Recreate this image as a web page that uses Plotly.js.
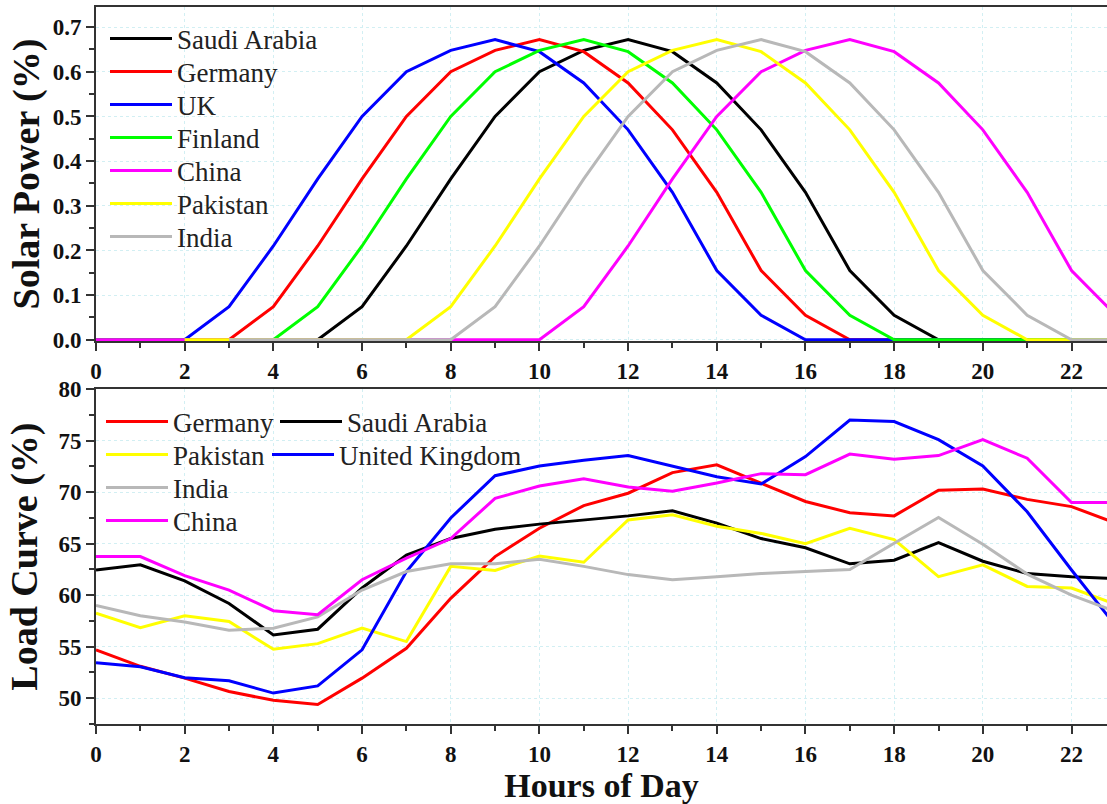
<!DOCTYPE html>
<html>
<head>
<meta charset="utf-8">
<script src="https://cdn.plot.ly/plotly-3.0.1.min.js"></script>
<style>html,body{margin:0;padding:0;background:#fff;}#chart{width:1107px;height:804px;}</style>
</head>
<body>
<div id="chart"></div>
<script>
// ---------- data ----------
const hours = [0,1,2,3,4,5,6,7,8,9,10,11,12,13,14,15,16,17,18,19,20,21,22,23];
const hoursPakistan = [2,3,4,5,6,7,8,9,10,11,12,13,14,15,16,17,18,19,20,21,22,23];
const hoursIndia = [3,4,5,6,7,8,9,10,11,12,13,14,15,16,17,18,19,20,21,22,23];

const saudiSolar    = [0,0,0,0,0,0,0.074,0.21,0.36,0.5,0.6,0.648,0.672,0.645,0.575,0.47,0.33,0.155,0.055,0,0,0,0,0];
const germanySolar  = [0,0,0,0,0.074,0.21,0.36,0.5,0.6,0.648,0.672,0.645,0.575,0.47,0.33,0.155,0.055,0,0,0,0,0,0,0];
const ukSolar       = [0,0,0,0.074,0.21,0.36,0.5,0.6,0.648,0.672,0.645,0.575,0.47,0.33,0.155,0.055,0,0,0,0,0,0,0,0];
const finlandSolar  = [0,0,0,0,0,0.074,0.21,0.36,0.5,0.6,0.648,0.672,0.645,0.575,0.47,0.33,0.155,0.055,0,0,0,0,0,0];
const chinaSolar    = [0,0,0,0,0,0,0,0,0,0,0,0.074,0.21,0.36,0.5,0.6,0.648,0.672,0.645,0.575,0.47,0.33,0.155,0.055];
const pakistanSolar = [0,0,0,0,0,0,0.074,0.21,0.36,0.5,0.6,0.648,0.672,0.645,0.575,0.47,0.33,0.155,0.055,0,0,0];
const indiaSolar    = [0,0,0,0,0,0,0.074,0.21,0.36,0.5,0.6,0.648,0.672,0.645,0.575,0.47,0.33,0.155,0.055,0,0];

const germanyLoad  = [54.7,53.1,51.95,50.65,49.8,49.4,51.95,54.85,59.7,63.75,66.5,68.7,69.9,71.9,72.65,70.9,69.1,68.0,67.7,70.2,70.3,69.3,68.6,67.0];
const saudiLoad    = [62.45,62.95,61.4,59.2,56.15,56.7,60.7,63.9,65.5,66.4,66.9,67.3,67.7,68.2,67.0,65.5,64.6,63.05,63.4,65.1,63.3,62.1,61.8,61.6];
const pakistanLoad = [58.25,56.85,58.0,57.45,54.75,55.3,56.8,55.5,62.8,62.4,63.8,63.2,67.3,67.8,66.7,66.0,65.0,66.5,65.4,61.8,62.95,60.85,60.7,59.1];
const ukLoad       = [53.45,53.05,52.0,51.7,50.5,51.2,54.7,62.3,67.5,71.6,72.55,73.1,73.55,72.5,71.5,70.8,73.45,77.0,76.85,75.1,72.55,68.1,62.45,57.0];
const indiaLoad    = [59.0,58.0,57.4,56.6,56.8,57.9,60.5,62.3,63.05,63.05,63.5,62.8,62.0,61.5,61.8,62.1,62.3,62.5,65.05,67.55,64.95,62.05,60.0,58.4];
const chinaLoad    = [63.75,63.75,61.9,60.5,58.5,58.1,61.5,63.6,65.5,69.4,70.6,71.3,70.5,70.1,70.9,71.8,71.7,73.7,73.2,73.55,75.1,73.3,69.0,69.0];

// ---------- styling ----------
const C = {saudi:'#000000', germany:'#ff0000', uk:'#0000ff', finland:'#00ff00', china:'#ff00ff', pakistan:'#ffff00', india:'#b8b8b8'};
const FONT = 'Liberation Serif, Times New Roman, serif';
const LW = 3;

// plot area in pixels: left 96, right 1107, top 7, bottom 724
const pxX = px => (px - 96) / 1011;
const pxY = py => (724 - py) / 717;

let legendCount = 0;
const legends = {};
const legFont = {family:FONT, size:27, color:'#222'};
function newLegend(px, py) {
  legendCount += 1;
  const key = legendCount === 1 ? 'legend' : 'legend' + legendCount;
  legends[key] = {x:pxX(px), y:pxY(py), xanchor:'left', yanchor:'middle',
    bgcolor:'rgba(0,0,0,0)', borderwidth:0, font:legFont, itemwidth:62, orientation:'v'};
  return key;
}

function tr(x, y, name, color, xa, ya, lx, ly) {
  return {x:x, y:y, name:name, type:'scatter', mode:'lines',
          line:{color:color, width:LW}, xaxis:xa, yaxis:ya,
          legend:newLegend(lx, ly)};
}

const data = [
  tr(hours, saudiSolar, 'Saudi Arabia', C.saudi, 'x', 'y', 105, 39),
  tr(hours, germanySolar, 'Germany', C.germany, 'x', 'y', 105, 72),
  tr(hours, ukSolar, 'UK', C.uk, 'x', 'y', 105, 105),
  tr(hours, finlandSolar, 'Finland', C.finland, 'x', 'y', 105, 138),
  tr(hours, chinaSolar, 'China', C.china, 'x', 'y', 105, 171),
  tr(hoursPakistan, pakistanSolar, 'Pakistan', C.pakistan, 'x', 'y', 105, 204),
  tr(hoursIndia, indiaSolar, 'India', C.india, 'x', 'y', 105, 237),

  tr(hours, germanyLoad, 'Germany', C.germany, 'x2', 'y2', 101, 422),
  tr(hours, saudiLoad, 'Saudi Arabia', C.saudi, 'x2', 'y2', 275, 422),
  tr(hours, pakistanLoad, 'Pakistan', C.pakistan, 'x2', 'y2', 101, 455),
  tr(hours, ukLoad, 'United Kingdom', C.uk, 'x2', 'y2', 267, 455),
  tr(hours, indiaLoad, 'India', C.india, 'x2', 'y2', 101, 488),
  tr(hours, chinaLoad, 'China', C.china, 'x2', 'y2', 101, 521)
];

const AX = '#333333';
const GRID = '#d2eff3';
const tickFont = {family:FONT, size:23, color:'#111', weight:'bold'};
function xAxis(anchor, title) {
  const a = {anchor:anchor, domain:[0,1], range:[0,22.8], tick0:0, dtick:2,
    ticks:'outside', ticklen:8, tickwidth:2, tickcolor:AX,
    showline:true, linewidth:2, linecolor:AX, mirror:true,
    showgrid:true, gridcolor:GRID, griddash:'dot', gridwidth:1, zeroline:false,
    tickfont:tickFont, layer:'below traces',
    minor:{ticks:'outside', dtick:1, tick0:0, ticklen:5, tickwidth:2, tickcolor:AX, showgrid:false}};
  if (title) a.title = {text:title, font:{family:FONT, size:34, color:'#111', weight:'bold'}, standoff:4};
  return a;
}
function yAxis(domain, range, dtick, minor, fmt, title, standoff) {
  return {domain:domain, range:range, tick0:0, dtick:dtick, tickformat:fmt,
    ticks:'outside', ticklen:8, tickwidth:2, tickcolor:AX,
    showline:true, linewidth:2, linecolor:AX, mirror:false,
    showgrid:true, gridcolor:GRID, griddash:'dot', gridwidth:1, zeroline:false,
    tickfont:tickFont, layer:'below traces',
    minor:{ticks:'outside', dtick:minor, ticklen:5, tickwidth:2, tickcolor:AX, showgrid:false},
    title:{text:title, font:{family:FONT, size:38, color:'#111', weight:'bold'}, standoff:standoff}};
}

const layout = Object.assign({
  width:1107, height:804,
  margin:{l:96, r:0, t:7, b:80},
  paper_bgcolor:'#ffffff', plot_bgcolor:'#ffffff',
  showlegend:true,
  xaxis: xAxis('y', null),
  yaxis: yAxis([0.534,1], [-0.003,0.745], 0.1, 0.05, '.1f', 'Solar Power (%)', 1),
  xaxis2: xAxis('y2', 'Hours of Day'),
  yaxis2: yAxis([0,0.467], [47.5,80], 5, 2.5, '', 'Load Curve (%)', 9)
}, legends);

Plotly.newPlot('chart', data, layout, {displayModeBar:false, staticPlot:true});
</script>
</body>
</html>
